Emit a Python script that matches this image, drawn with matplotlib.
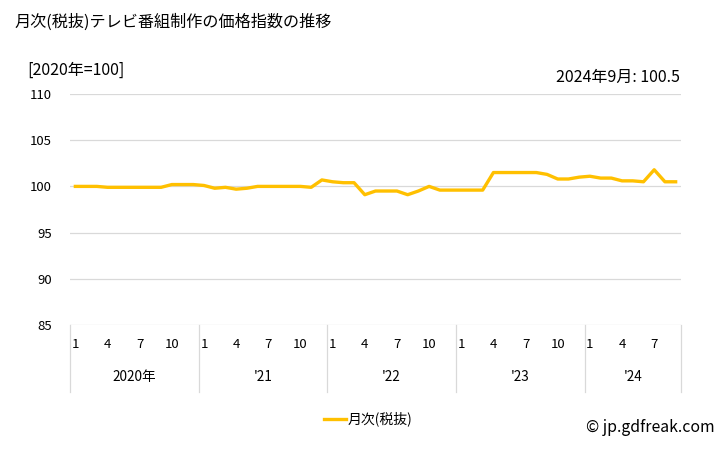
import matplotlib
matplotlib.use("Agg")
import matplotlib.pyplot as plt
import matplotlib.transforms as mtransforms
import numpy as np

plt.rcParams['font.family'] = ['Noto Sans CJK JP', 'DejaVu Sans']

# 月次データ 2020年1月 -> 2024年9月
values = [
    100.0, 100.0, 100.0, 99.9, 99.9, 99.9, 99.9, 99.9, 99.9, 100.2, 100.2, 100.2,   # 2020
    100.1, 99.8, 99.9, 99.7, 99.8, 100.0, 100.0, 100.0, 100.0, 100.0, 99.9, 100.7,  # 2021
    100.5, 100.4, 100.4, 99.1, 99.5, 99.5, 99.5, 99.1, 99.5, 100.0, 99.6, 99.6,     # 2022
    99.6, 99.6, 99.6, 101.5, 101.5, 101.5, 101.5, 101.5, 101.3, 100.8, 100.8, 101.0,  # 2023
    101.1, 100.9, 100.9, 100.6, 100.6, 100.5, 101.8, 100.5, 100.5,                 # 2024
]
year_labels = ['2020年', "'21", "'22", "'23", "'24"]
month_ticks = [1, 4, 7, 10]

n = len(values)
months = [(i % 12) + 1 for i in range(n)]
x = np.arange(n)

fig = plt.figure(figsize=(7.28, 4.5), dpi=100)
ax = fig.add_axes([70 / 728, 1 - 325 / 450, 611 / 728, 231 / 450])

ax.plot(x, values, color='#FFC000', linewidth=2.4, solid_joinstyle='round', label='月次(税抜)')

ax.set_xlim(-0.5, n - 0.5)
ax.set_ylim(85, 110)
ax.set_yticks([85, 90, 95, 100, 105, 110])
ax.tick_params(axis='y', length=0, labelsize=9.5, pad=13)
ax.set_xticks([])
ax.grid(axis='y', color='#d9d9d9', linewidth=0.9)
for s in ax.spines.values():
    s.set_visible(False)

# 月・年ラベル（表形式の軸）
trans = mtransforms.blended_transform_factory(ax.transData, ax.transAxes)
for i, m in enumerate(months):
    if m in month_ticks:
        ax.text(i, -0.085, str(m), transform=trans, ha='center', va='center', fontsize=9.5)

bounds = list(range(0, n, 12)) + [n]
for b in bounds:
    ax.plot([b - 0.5, b - 0.5], [0, -0.29], transform=trans, color='#d9d9d9',
            linewidth=0.9, clip_on=False)
for k, lab in enumerate(year_labels):
    start = bounds[k]
    end = bounds[k + 1] - 1
    ax.text((start + end) / 2, -0.225, lab, transform=trans, ha='center', va='center', fontsize=9.8)

fig.text(14 / 728, 1 - 22 / 450, '月次(税抜)テレビ番組制作の価格指数の推移', fontsize=11.6, va='center')
fig.text(27 / 728, 1 - 70 / 450, '[2020年=100]', fontsize=11.5, va='center')
fig.text(680 / 728, 1 - 77 / 450, f'2024年9月: {values[-1]}', fontsize=11.5, va='center', ha='right')

fig.legend(loc='center', bbox_to_anchor=(368 / 728, 1 - 419 / 450), frameon=False,
           fontsize=10, handlelength=1.6, handletextpad=0.1)
fig.text(715 / 728, 1 - 428 / 450, '© jp.gdfreak.com', fontsize=11.4, ha='right', va='center')

fig.savefig('out.png', dpi=100)
